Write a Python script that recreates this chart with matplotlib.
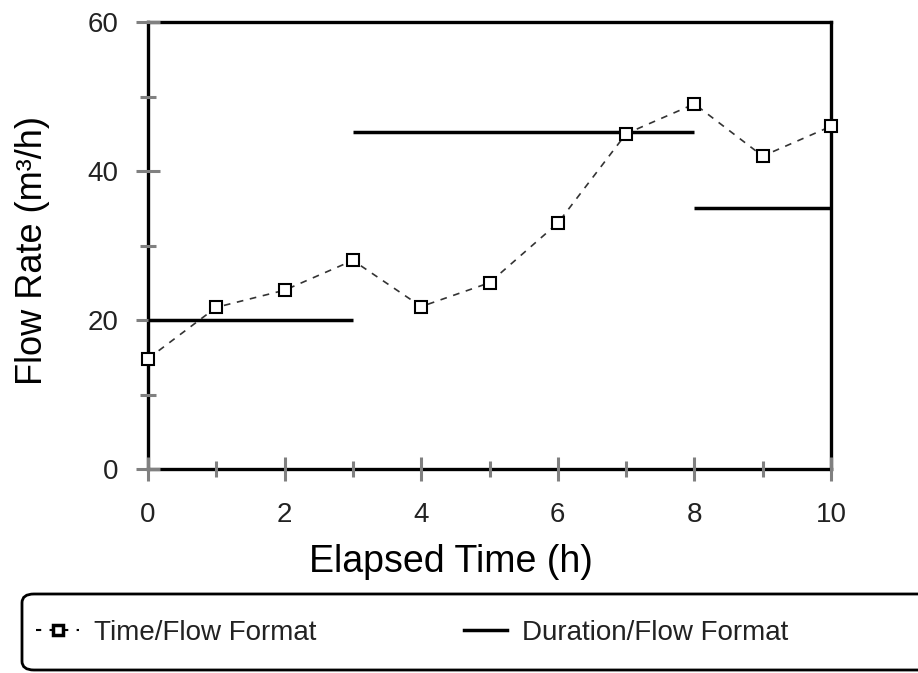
import numpy as np
import matplotlib.pyplot as plt
from matplotlib.patches import FancyBboxPatch
from matplotlib.lines import Line2D

plt.rcParams['font.family'] = ['Liberation Sans', 'DejaVu Sans']

# Time/Flow format readings
hours = [0, 1, 2, 3, 4, 5, 6, 7, 8, 9, 10]
flow = [14.8, 21.7, 24.0, 28.0, 21.8, 25.0, 33.0, 45.0, 49.0, 42.0, 46.0]

# Duration/Flow format: (start, end, rate)
dur_start = [0, 3, 8]
dur_end = [3, 8, 10]
dur_rate = [20.0, 45.3, 35.0]

x_ticks = [0, 2, 4, 6, 8, 10]
y_ticks = [0, 20, 40, 60]

W, H = 918, 673
fig = plt.figure(figsize=(W / 100, H / 100), dpi=100)
ax = fig.add_axes([148 / W, 1 - 469 / H, (831 - 148) / W, (469 - 22) / H])

ax.plot(hours, flow, linestyle=(0, (4, 4)), color='#333333', linewidth=1.2,
        marker='s', markersize=8.5, markerfacecolor='white',
        markeredgecolor='black', markeredgewidth=1.5, zorder=4, clip_on=False)
ax.hlines(dur_rate, dur_start, dur_end, colors='black', linewidth=2.5, zorder=3)

ax.set_xlim(0, 10)
ax.set_ylim(0, 60)
ax.set_xticks(x_ticks)
ax.set_yticks(y_ticks)
ax.set_xticks([1, 3, 5, 7, 9], minor=True)
ax.set_yticks([10, 30, 50], minor=True)
ax.tick_params(which='both', direction='inout', color='#808080', width=2.2,
               labelsize=20, labelcolor='#222222')
ax.tick_params(which='major', length=17)
ax.tick_params(which='minor', length=11)
ax.tick_params(axis='x', pad=15)
ax.tick_params(axis='y', pad=13)
for s in ax.spines.values():
    s.set_linewidth(2.4)
    s.set_color('black')
    s.set_zorder(1)

ax.set_xlabel('Elapsed Time (h)', fontsize=27)
ax.set_ylabel('Flow Rate (m³/h)', fontsize=26)
ax.xaxis.set_label_coords(0.4436, -0.168)
ax.yaxis.set_label_coords(-0.1435, 0.488)

# legend box, running off the right edge
box = FancyBboxPatch((22 / W, 1 - 670 / H), 0.99, 76 / H,
                     boxstyle='round,pad=0,rounding_size=0.013',
                     transform=fig.transFigure, facecolor='white',
                     edgecolor='black', linewidth=2, clip_on=False)
fig.add_artist(box)

handles = [
    Line2D([], [], linestyle=(0, (2.5, 4)), color='black', linewidth=1.5,
           marker='s', markersize=7, markerfacecolor='white',
           markeredgecolor='black', markeredgewidth=2.5),
    Line2D([], [], color='black', linewidth=2.5),
]
fig.legend(handles, ['Time/Flow Format', 'Duration/Flow Format'],
           loc='center left', bbox_to_anchor=(36 / W, 1 - 633 / H),
           ncol=2, frameon=False, fontsize=20, handlelength=1.55,
           handletextpad=0.55, columnspacing=5.3, borderpad=0,
           borderaxespad=0, labelcolor='#222222')

fig.savefig('out.png', dpi=100)
